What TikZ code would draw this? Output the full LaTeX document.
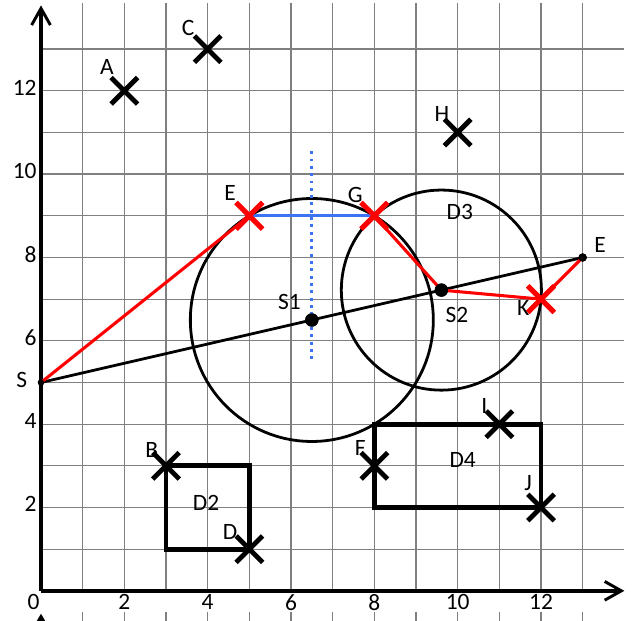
\documentclass[tikz,border=0pt]{standalone}
\usepackage{fontspec}
\setmainfont{Carlito}
\usepackage{xcolor}
\usetikzlibrary{positioning,shapes.misc,arrows.meta}
\definecolor{pathred}{RGB}{255,0,0}
\definecolor{pathblue}{RGB}{60,115,245}

\begin{document}
\begin{tikzpicture}[font=\fontsize{16}{19}\selectfont,
    gridline/.style={gray, line width=0.9pt},
    axis/.style={line width=2.5pt, -{Straight Barb[length=4mm,width=4.5mm,line width=2pt]}},
    xmark/.style={cross out, draw=#1, line width=3.3pt, minimum size=0.52cm, inner sep=0pt},
    xmark/.default=black,
    centre/.style={circle, fill=black, inner sep=0pt, minimum size=#1},
    ring/.style={line width=1.9pt},
    box/.style={line width=3.2pt},
    redline/.style={pathred, line width=2.1pt},
    blueline/.style={pathblue, line width=2.1pt},
    tag/.style={inner sep=0pt}]
    \useasboundingbox (-0.984,-0.72) rectangle (14.4,14.18);

    \foreach \x in {1,...,13} {
        \draw[gridline] (\x,0) -- (\x,14.1);
        \draw[gridline] (\x,-0.5) -- (\x,-0.75);
    }
    \foreach \y in {1,...,13}
        \draw[gridline] (0,\y) -- (14,\y);
    \fill (0,-0.55) -- (0.1,-0.72) -- (-0.1,-0.72) -- cycle;

    \coordinate (origin) at (0,0);
    \draw[axis] (origin) -- (14,0);
    \draw[axis] (origin) -- (0,14.05);
    \node[tag] (xlab0) at (-0.18,-0.26) {0};
    \foreach \v in {2,4,...,12} {
        \node[tag, anchor=north] (xlab\v) at (\v,-0.08) {\v};
        \node[tag, anchor=east] (ylab\v) at (-0.1,\v+0.08) {\v};
    }

    \node[centre=0.15cm] (S) at (0,5) {};
    \node[centre=0.32cm] (S1) at (6.5,6.5) {};
    \node[centre=0.32cm] (S2) at (9.6087,7.2174) {};
    \node[centre=0.2cm] (Eend) at (13,8) {};

    \node[xmark] (A) at (2,12) {};
    \node[xmark] (C) at (4,13) {};
    \node[xmark] (H) at (10,11) {};
    \node[xmark] (B) at (3,3) {};
    \node[xmark] (D) at (5,1) {};
    \node[xmark] (F) at (8,3) {};
    \node[xmark] (I) at (11,4) {};
    \node[xmark] (J) at (12,2) {};
    \node[xmark=pathred] (E) at (5,9) {};
    \node[xmark=pathred] (G) at (8,9) {};
    \node[xmark=pathred] (K) at (12,7) {};

    \draw[ring] (S1.center) circle[radius=2.9155];
    \draw[ring] (S2.center) circle[radius=2.4012];
    \draw[ring] (S.center) -- (Eend.center);

    \draw[box] (B.center) rectangle (D.center);
    \draw[box] (8,2) rectangle (12,4);

    \coordinate (vtop) at (6.5,10.55);
    \coordinate (vbot) at (6.5,5.5);
    \draw[pathblue, line width=2.2pt, dash pattern=on 2pt off 3pt] (vtop) -- (vbot);

    \draw[redline] (S.center) -- (E.center);
    \draw[blueline] (E.center) -- (G.center);
    \draw[redline, line join=round] (G.center) -- (S2.center) -- (K.center) -- (Eend.center);

    \node[xmark=pathred] at (E) {};
    \node[xmark=pathred] at (G) {};
    \node[xmark=pathred] at (K) {};
    \node[centre=0.32cm] at (S1) {};
    \node[centre=0.32cm] at (S2) {};
    \node[centre=0.2cm] at (Eend) {};
    \node[centre=0.15cm] at (S) {};

    \node[tag] (labA) at (1.58,12.58) {A};
    \node[tag] (labC) at (3.53,13.51) {C};
    \node[tag] (labH) at (9.62,11.45) {H};
    \node[tag] (labE) at (4.54,9.55) {E};
    \node[tag] (labG) at (7.54,9.5) {G};
    \node[tag] (labEend) at (13.42,8.3) {E};
    \node[tag] (labK) at (11.57,6.78) {K};
    \node[tag] (labS) at (-0.46,5.06) {S};
    \node[tag] (labS1) at (5.96,6.94) {S1};
    \node[tag] (labS2) at (9.98,6.62) {S2};
    \node[tag] (labB) at (2.66,3.38) {B};
    \node[tag] (labD) at (4.54,1.42) {D};
    \node[tag] (labF) at (7.66,3.42) {F};
    \node[tag] (labI) at (10.64,4.44) {I};
    \node[tag] (labJ) at (11.69,2.58) {J};
    \node[tag] (labD2) at (3.96,2.1) {D2};
    \node[tag] (labD3) at (10.05,9.1) {D3};
    \node[tag] (labD4) at (10.12,3.14) {D4};
\end{tikzpicture}
\end{document}
